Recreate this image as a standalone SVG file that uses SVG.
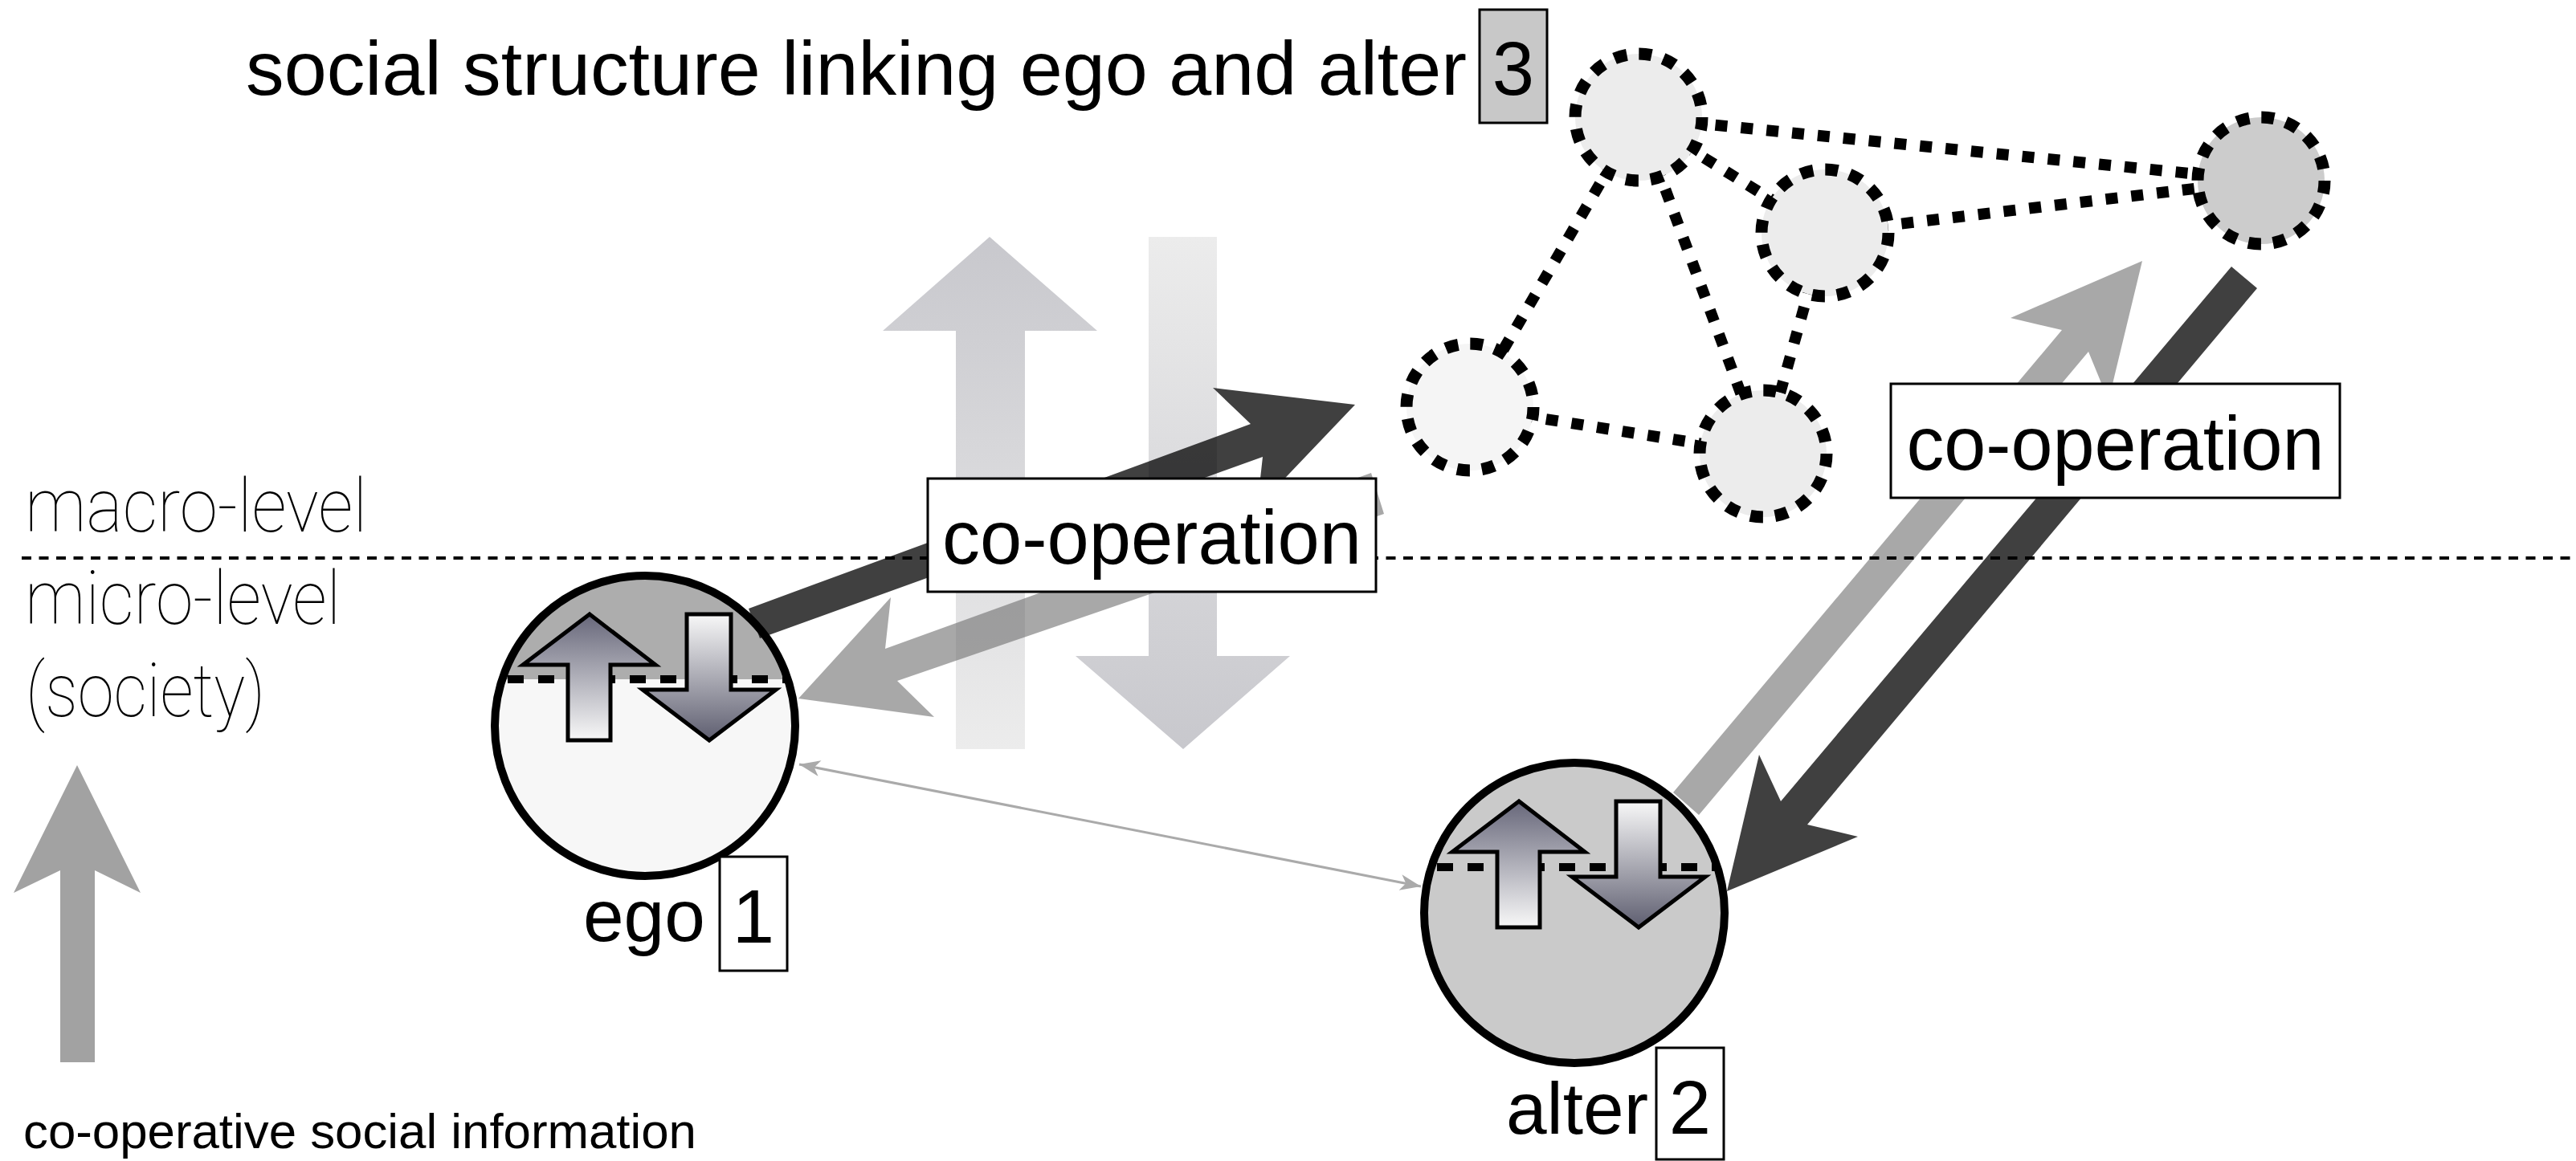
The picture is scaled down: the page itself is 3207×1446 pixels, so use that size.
<svg xmlns="http://www.w3.org/2000/svg" width="3207" height="1446" viewBox="0 0 3207 1446">
<defs>
<style>
.t{font-family:"Liberation Sans",Arial,sans-serif;fill:#000}
.thin{font-family:Roboto,"Liberation Sans",sans-serif;font-weight:100;fill:#000}
.box{fill:#fff;stroke:#000;stroke-width:3}
.ring{stroke:#000;stroke-width:15;stroke-dasharray:16 15}
.edge{stroke:#000;stroke-width:14;stroke-dasharray:15 17;fill:none}
.pc{stroke:#000;stroke-width:10;fill:none}
.pd{stroke:#000;stroke-width:10;stroke-dasharray:20 18}
.pa{stroke:#000;stroke-width:5;stroke-linejoin:miter}
.dark{fill:#000;fill-opacity:0.75}
.gray{fill:#6e6e6e;fill-opacity:0.6}
</style>
<linearGradient id="gUp" x1="0" y1="0" x2="0" y2="1"><stop offset="0" stop-color="#67677a"/><stop offset="1" stop-color="#f8f8f8"/></linearGradient>
<linearGradient id="gDown" x1="0" y1="0" x2="0" y2="1"><stop offset="0" stop-color="#f8f8f8"/><stop offset="1" stop-color="#5e5e70"/></linearGradient>
<linearGradient id="gBigUp" x1="0" y1="0" x2="0" y2="1"><stop offset="0" stop-color="#c8c8cd"/><stop offset="1" stop-color="#ececec"/></linearGradient>
<linearGradient id="gBigDown" x1="0" y1="0" x2="0" y2="1"><stop offset="0" stop-color="#ececec"/><stop offset="1" stop-color="#c8c8cd"/></linearGradient>
<marker id="mh" viewBox="-28 -12 30 24" refX="0" refY="0" markerWidth="30" markerHeight="24" markerUnits="userSpaceOnUse" orient="auto-start-reverse"><path d="M0,0 L-26,-10 L-19,0 L-26,10 Z" fill="#aaa"/></marker>
</defs>
<rect width="3207" height="1446" fill="#fff"/>

<!-- big light vertical arrows -->
<g id="level-arrows">
<polygon points="1232,295 1366,412 1276,412 1276,933 1190,933 1190,412 1099,412" fill="url(#gBigUp)"/>
<polygon points="1430,295 1515,295 1515,817 1606,817 1473,933 1339,817 1430,817" fill="url(#gBigDown)"/>
</g>

<!-- network edges -->
<g id="structure-edges">
<line class="edge" x1="2040" y1="146" x2="2815" y2="225"/>
<line class="edge" x1="2040" y1="146" x2="2272" y2="290"/>
<line class="edge" x1="2040" y1="146" x2="1830" y2="507"/>
<line class="edge" x1="2040" y1="146" x2="2195" y2="565"/>
<line class="edge" x1="2272" y1="290" x2="2815" y2="225"/>
<line class="edge" x1="2272" y1="290" x2="2195" y2="565"/>
<line class="edge" x1="1830" y1="507" x2="2195" y2="565"/>
</g>

<g id="structure">
<g id="n1"><circle class="ring" cx="2040" cy="146" r="79" fill="#ececec"/></g>
<g id="n2"><circle class="ring" cx="2272" cy="290" r="79" fill="#ececec"/></g>
<g id="n3"><circle class="ring" cx="2815" cy="225" r="79" fill="#cccccc"/></g>
<g id="n4"><circle class="ring" cx="1830" cy="507" r="79" fill="#f5f5f5"/></g>
<g id="n5"><circle class="ring" cx="2195" cy="565" r="79" fill="#ececec"/></g>
</g>

<g id="title3">
<text class="t" x="306" y="118" font-size="95" textLength="1520" lengthAdjust="spacingAndGlyphs">social structure linking ego and alter</text>
<rect x="1842" y="12" width="84" height="141" fill="#c8c8c8" stroke="#000" stroke-width="3"/>
<text class="t" x="1884" y="118" font-size="94" text-anchor="middle">3</text>
</g>

<g id="ego" transform="translate(803,904)">
<circle r="187" fill="#f7f7f7"/>
<path d="M-177.8,-58 A187,187 0 0 1 177.8,-58 Z" fill="#adadad"/>
<line class="pd" x1="-171" y1="-58" x2="178" y2="-58"/>
<polygon class="pa" fill="url(#gUp)" points="-69,-139 -152,-76 -96,-76 -96,18 -43,18 -43,-76 13,-76"/>
<polygon class="pa" fill="url(#gDown)" points="52,-139 107,-139 107,-45 163,-45 80,18 -3,-45 52,-45"/>
<circle class="pc" r="187"/>
<text class="t" x="-77" y="268" font-size="91">ego</text>
<rect x="93" y="163" width="84" height="142" fill="#fff" stroke="#000" stroke-width="3"/>
<text class="t" x="135" y="270" font-size="94" text-anchor="middle">1</text>
</g>

<g id="alter" transform="translate(1960,1137)">
<circle r="187" fill="#cacaca"/>
<line class="pd" x1="-171" y1="-57" x2="178" y2="-57"/>
<polygon class="pa" fill="url(#gUp)" points="-69,-139 -152,-76 -96,-76 -96,18 -43,18 -43,-76 13,-76"/>
<polygon class="pa" fill="url(#gDown)" points="52,-139 107,-139 107,-45 163,-45 80,18 -3,-45 52,-45"/>
<circle class="pc" r="187"/>
<text class="t" x="-85" y="275" font-size="91">alter</text>
<rect x="102" y="168" width="84" height="139" fill="#fff" stroke="#000" stroke-width="3"/>
<text class="t" x="144" y="275" font-size="94" text-anchor="middle">2</text>
</g>

<g id="connectors">
<polygon class="dark" points="932,758 1557,528 1510,483 1687,504 1565,632 1572,569 946,795"/>
<polygon class="gray" points="994,870 1109,744 1102,808 1707,589 1723,640 1117,848 1163,893"/>
<polygon class="dark" points="2778,332 2810,359 2250,1027 2313,1042 2150,1110 2190,940 2217,998"/>
<polygon class="gray" points="2083,987 2567,411 2503,396 2667,325 2625,499 2600,438 2115,1015"/>
<line x1="995" y1="952" x2="1769" y2="1104" stroke="#aaa" stroke-width="3" marker-start="url(#mh)" marker-end="url(#mh)"/>
</g>

<line id="level-divider" x1="27" y1="695" x2="3207" y2="695" stroke="#000" stroke-width="4" stroke-dasharray="12 9.5"/>

<g id="label-coop-1">
<rect class="box" x="1155" y="596" width="558" height="141"/>
<text class="t" x="1434" y="702" font-size="94" text-anchor="middle" textLength="522" lengthAdjust="spacingAndGlyphs">co-operation</text>
</g>
<g id="label-coop-2">
<rect class="box" x="2354" y="478" width="559" height="142"/>
<text class="t" x="2633.5" y="585" font-size="94" text-anchor="middle" textLength="520" lengthAdjust="spacingAndGlyphs">co-operation</text>
</g>

<g id="levels">
<text class="thin" x="31" y="662" font-size="93" textLength="426" lengthAdjust="spacingAndGlyphs">macro-level</text>
<text class="thin" x="31" y="777" font-size="93" textLength="393" lengthAdjust="spacingAndGlyphs">micro-level</text>
<text class="thin" x="32" y="892" font-size="93" textLength="298" lengthAdjust="spacingAndGlyphs">(society)</text>
</g>

<g id="legend">
<polygon points="96,953 175,1112 118,1084 118,1323 75,1323 75,1084 17,1112" fill="#a2a2a2"/>
<text class="t" x="29" y="1430" font-size="62" textLength="838" lengthAdjust="spacingAndGlyphs">co-operative social information</text>
</g>
</svg>
